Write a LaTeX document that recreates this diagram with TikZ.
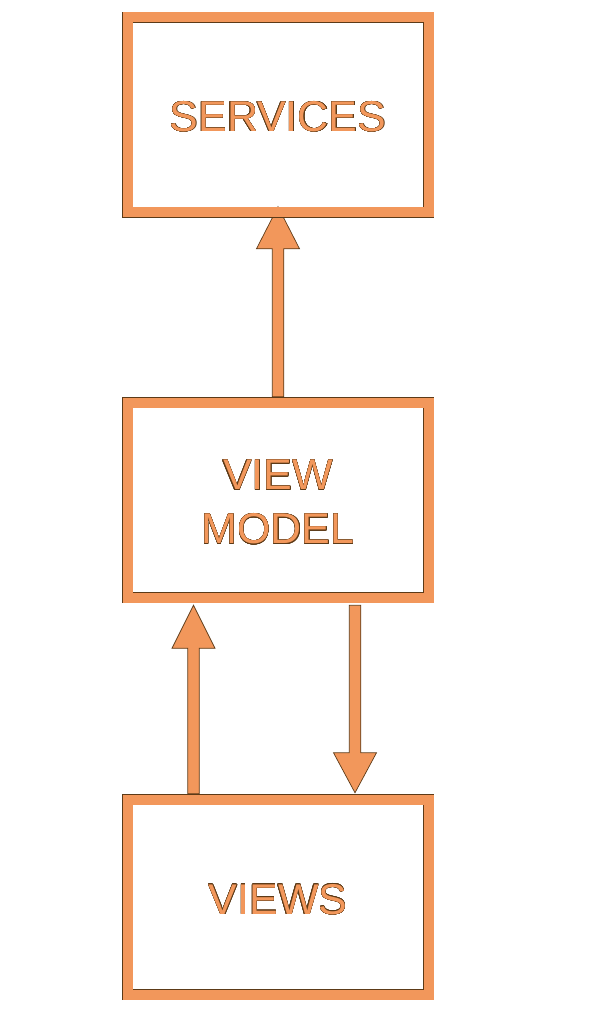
\documentclass[tikz,border=0pt]{standalone}
\usepackage{fontspec}
\setmainfont{Liberation Sans}
\usepackage{contour}
\usetikzlibrary{calc,backgrounds}
\definecolor{boxorange}{HTML}{F2975B}
\definecolor{outl}{HTML}{5C3A17}
\contourlength{0.35pt}
\newcommand{\lbl}[1]{\raisebox{-2.5pt}[\height][\depth]{\contour{outl}{\textcolor{boxorange}{#1}}}}
\tikzset{
  layerbox/.style={rectangle, draw=outl, double=boxorange, double distance=10pt,
    line width=0.5pt, minimum width=301pt, minimum height=195pt, inner sep=0pt,
    align=center, font=\fontsize{43}{54}\selectfont},
  arrowshape/.style={fill=boxorange, draw=outl, line width=0.7pt, line join=miter}
}
\begin{document}
\begin{tikzpicture}[x=1pt,y=-1pt]
\useasboundingbox (0,0) rectangle (590,1010);
\node[layerbox] (svc) at (278,114.5) {\lbl{SERVICES}};
\node[layerbox] (vm) at (278,500) {\lbl{VIEW}\\\lbl{MODEL}};
\node[layerbox] (views) at (278,897) {\lbl{VIEWS}};
\begin{scope}[on background layer]
% view model -> services
\coordinate (t1) at ($(svc.south)+(0,-5.5)$);
\coordinate (b1) at ($(vm.north)+(0,-5.5)$);
\draw[arrowshape] (t1) -- ++(21.5,42) -- ++(-15.75,0) -- ($(b1)+(5.75,0)$)
  -- ($(b1)+(-5.75,0)$) -- ($(t1)+(-5.75,42)$) -- ++(-15.75,0) -- cycle;
% views -> view model
\coordinate (t2) at ($(vm.south)+(-84.5,7.5)$);
\coordinate (b2) at ($(views.north)+(-84.5,-5.5)$);
\draw[arrowshape] (t2) -- ++(21.5,43) -- ++(-15.75,0) -- ($(b2)+(5.75,0)$)
  -- ($(b2)+(-5.75,0)$) -- ($(t2)+(-5.75,43)$) -- ++(-15.75,0) -- cycle;
% view model -> views
\coordinate (s3) at ($(vm.south)+(77,7.5)$);
\coordinate (t3) at ($(views.north)+(77,-6.5)$);
\draw[arrowshape] (t3) -- ++(21.5,-40) -- ++(-15.75,0) -- ($(s3)+(5.75,0)$)
  -- ($(s3)+(-5.75,0)$) -- ($(t3)+(-5.75,-40)$) -- ++(-15.75,0) -- cycle;
\end{scope}
\end{tikzpicture}
\end{document}
